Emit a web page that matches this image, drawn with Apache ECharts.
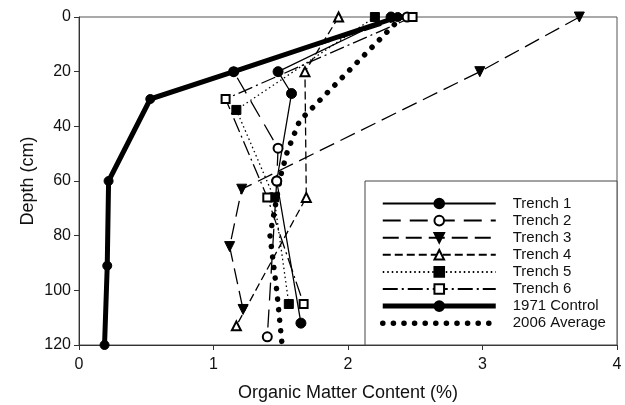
<!DOCTYPE html>
<html><head><meta charset="utf-8">
<script src="https://cdn.jsdelivr.net/npm/echarts@6/dist/echarts.min.js"></script>
<style>html,body{margin:0;padding:0;background:#fff}#c{width:625px;height:405px}</style>
</head><body><div id="c"></div>
<script>
// ---- data (Organic matter %, depth cm) ----
const xTicks = [0, 1, 2, 3, 4];
const yTicks = [0, 20, 40, 60, 80, 100, 120];

const trench1X = [2.32, 1.48, 1.58, 1.47, 1.65];
const trench1D = [0, 20, 28, 60, 112];
const trench2X = [2.44, 1.15, 1.48, 1.47, 1.40];
const trench2D = [0, 20, 48, 60, 117];
const trench3X = [3.72, 2.98, 1.21, 1.12, 1.22];
const trench3D = [0, 20, 63, 84, 107];
const trench4X = [1.93, 1.68, 1.69, 1.17];
const trench4D = [0, 20, 66, 113];
const trench5X = [2.20, 1.17, 1.45, 1.56];
const trench5D = [0, 34, 66, 105];
const trench6X = [2.48, 1.09, 1.40, 1.67];
const trench6D = [0, 30, 66, 105];
const control1971X = [2.37, 1.15, 0.53, 0.22, 0.21, 0.19];
const control1971D = [0, 20, 30, 60, 91, 120];
const avg2006X = [2.40, 1.64, 1.55, 1.50, 1.42, 1.47, 1.51];
const avg2006D = [0, 38, 49, 58, 80, 100, 120];

const names = ['Trench 1','Trench 2','Trench 3','Trench 4','Trench 5','Trench 6','1971 Control','2006 Average'];

function pairs(xs, ds){ return xs.map((v,i)=>[v, ds[i]]); }

const chart = echarts.init(document.getElementById('c'), null, {renderer:'canvas'});
const FONT = 'Liberation Sans, Arial, sans-serif';
const INK = '#000';
const DOTS = [0.1, 10.5];

function mk(name, xs, ds, symbol, size, lineType, width, extra){
  return Object.assign({
    name, type:'line', data: pairs(xs, ds),
    symbol, symbolSize: size, showSymbol: symbol !== 'none',
    itemStyle:{color: INK, borderColor: INK, borderWidth: 1},
    lineStyle:{color: INK, width: width, type: lineType},
    animation:false, silent:true
  }, extra || {});
}

const series = [
  mk(names[0], trench1X, trench1D, 'circle', 10, 'solid', 1.3),
  mk(names[1], trench2X, trench2D, 'emptyCircle', 9, [18, 9], 1.3),
  mk(names[2], trench3X, trench3D, 'triangle', 10, [16, 7], 1.3, {symbolRotate:180}),
  mk(names[3], trench4X, trench4D, 'emptyTriangle', 9, [8, 4], 1.3),
  mk(names[4], trench5X, trench5D, 'rect', 9, [1.5, 3], 1.3),
  mk(names[5], trench6X, trench6D, 'emptyRect', 8, [15, 4, 2, 4], 1.3),
  mk(names[6], control1971X, control1971D, 'circle', 9, 'solid', 5),
  mk(names[7], avg2006X, avg2006D, 'none', 0, DOTS, 5.5, {lineStyle:{color:INK, width:5.5, type:DOTS, cap:'round'}})
];

const legendData = names.map((n, i) => {
  if (i === 6) return {name:n, lineStyle:{width:5, color:INK}};
  if (i === 7) return {name:n, lineStyle:{width:5.5, color:INK, type:DOTS, cap:'round'},
                       itemStyle:{color:'rgba(0,0,0,0)', borderWidth:0, opacity:0}};
  return {name:n};
});

chart.setOption({
  animation:false,
  backgroundColor:'#fff',
  textStyle:{fontFamily: FONT},
  grid:{left:79, right:8, top:17, bottom:60, show:true, borderColor:'#555', borderWidth:1,
        containLabel:false, outerBoundsMode:'none'},
  graphic:[{
    type:'rect', z:3, silent:true,
    shape:{x:365, y:181, width:252, height:164},
    style:{fill:'#fff', stroke:'#444', lineWidth:1}
  }],
  legend:{
    data: legendData, orient:'vertical', left:375, top:191, z:6,
    itemWidth:113, itemHeight:12, itemGap:2.1,
    textStyle:{fontFamily:FONT, fontSize:15, color:'#111', lineHeight:12, padding:[0,0,0,12]},
    selectedMode:false, inactiveColor:'#000'
  },
  xAxis:{
    type:'value', min:xTicks[0], max:xTicks[xTicks.length-1], interval:1,
    name:'Organic Matter Content (%)', nameLocation:'middle', nameGap:39, nameMoveOverlap:false,
    nameTextStyle:{fontFamily:FONT, fontSize:18, color:'#111'},
    axisLine:{show:true, onZero:false, lineStyle:{color:'#333', width:1}},
    axisTick:{show:true, length:5, lineStyle:{color:'#333'}},
    axisLabel:{fontFamily:FONT, fontSize:16, color:'#111', margin:12},
    splitLine:{show:false}
  },
  yAxis:{
    type:'value', inverse:true, min:yTicks[0], max:yTicks[yTicks.length-1], interval:20,
    name:'Depth (cm)', nameLocation:'middle', nameGap:42, nameRotate:90, nameMoveOverlap:false,
    nameTextStyle:{fontFamily:FONT, fontSize:18, color:'#111'},
    axisLine:{show:true, onZero:false, lineStyle:{color:'#333', width:1}},
    axisTick:{show:true, length:5, lineStyle:{color:'#333'}},
    axisLabel:{fontFamily:FONT, fontSize:16, color:'#111', margin:8},
    splitLine:{show:false}
  },
  series
});
</script>
</body></html>
